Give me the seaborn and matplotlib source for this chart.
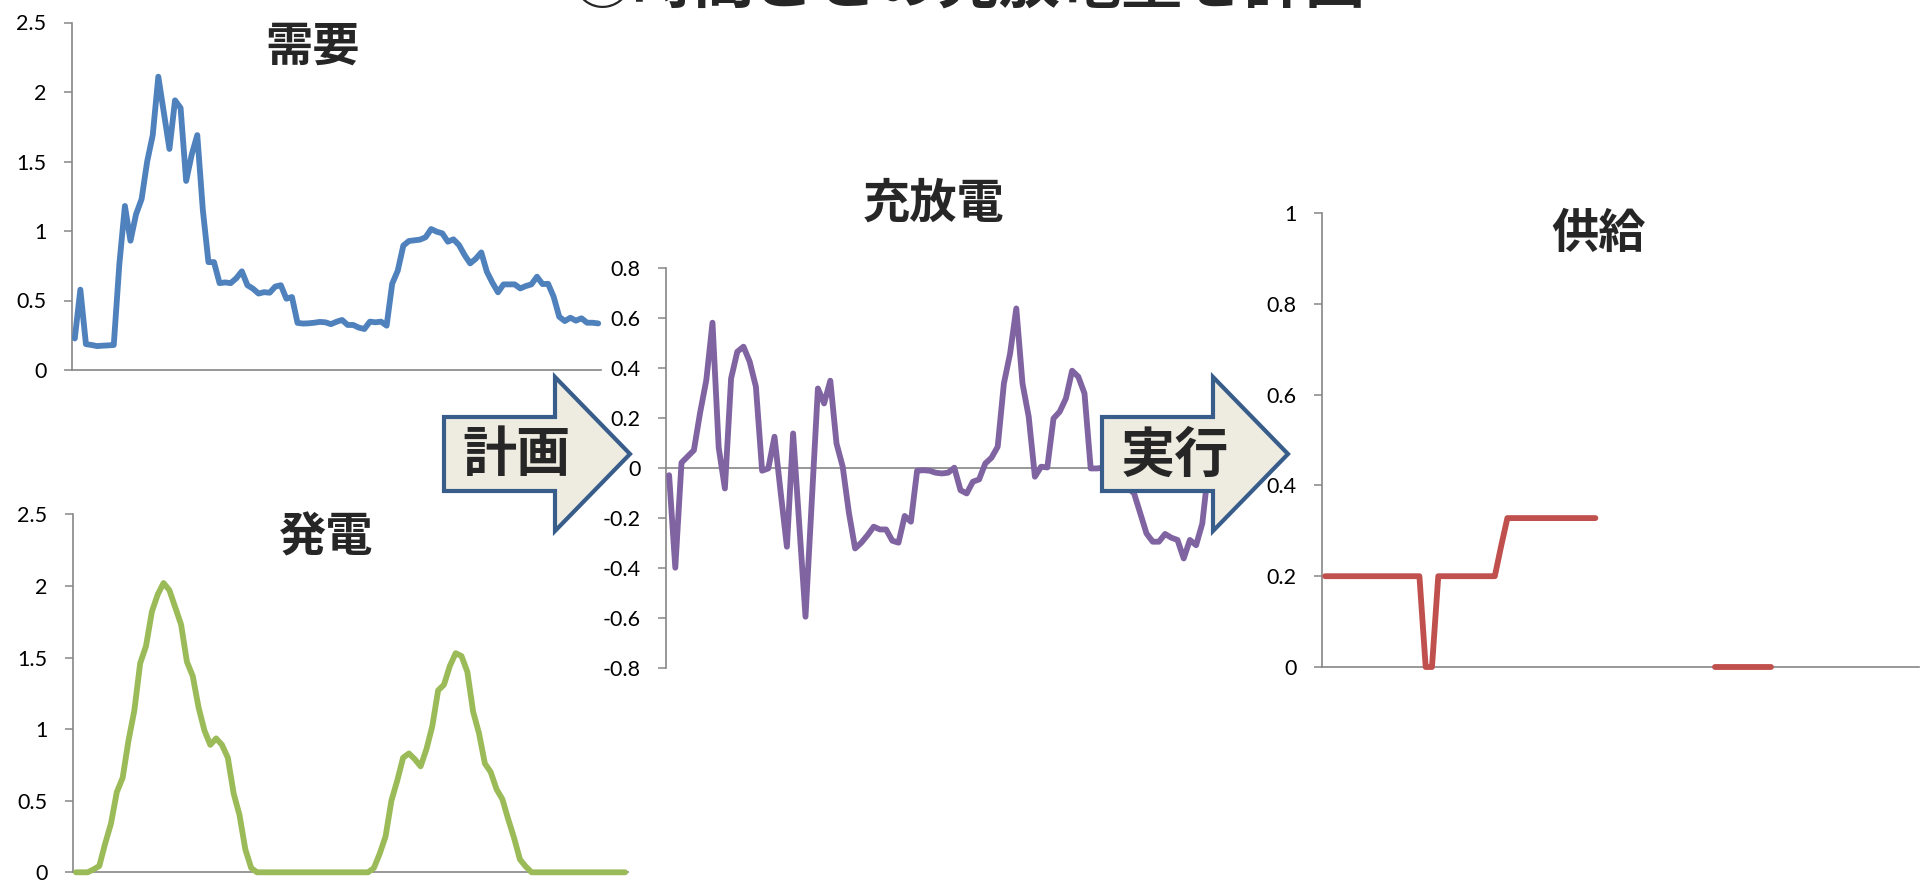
import numpy as np
import pandas as pd
import seaborn as sns
import matplotlib.pyplot as plt
from matplotlib.patches import Polygon

W, H = 1920, 883

# --- data (one value per time step) ---
demand = [0.227, 0.578, 0.186, 0.18, 0.172, 0.175, 0.177, 0.18, 0.76, 1.18,
          0.93, 1.12, 1.23, 1.50, 1.69, 2.11, 1.85, 1.59, 1.94, 1.885,
          1.36, 1.55, 1.69, 1.15, 0.776, 0.776, 0.625, 0.63, 0.625, 0.66,
          0.71, 0.61, 0.585, 0.55, 0.56, 0.556, 0.60, 0.61, 0.513, 0.525,
          0.339, 0.334, 0.336, 0.34, 0.346, 0.343, 0.33, 0.347, 0.36, 0.324,
          0.324, 0.305, 0.295, 0.348, 0.343, 0.348, 0.319, 0.62, 0.715, 0.895,
          0.928, 0.933, 0.938, 0.955, 1.014, 0.995, 0.983, 0.923, 0.94, 0.899,
          0.827, 0.767, 0.80, 0.846, 0.707, 0.628, 0.559, 0.616, 0.616, 0.616,
          0.587, 0.604, 0.616, 0.671, 0.618, 0.62, 0.527, 0.383, 0.352, 0.376,
          0.355, 0.372, 0.34, 0.34, 0.335]

generation = [0, 0, 0, 0.02, 0.044, 0.20, 0.34, 0.56, 0.66, 0.92,
              1.13, 1.46, 1.58, 1.82, 1.94, 2.02, 1.97, 1.85, 1.73, 1.47,
              1.37, 1.15, 0.99, 0.89, 0.935, 0.89, 0.80, 0.55, 0.40, 0.16,
              0.03, 0, 0, 0, 0, 0, 0, 0, 0, 0,
              0, 0, 0, 0, 0, 0, 0, 0, 0, 0,
              0, 0.03, 0.13, 0.25, 0.50, 0.64, 0.80, 0.83, 0.79, 0.74,
              0.86, 1.02, 1.27, 1.31, 1.44, 1.53, 1.51, 1.40, 1.12, 0.97,
              0.76, 0.70, 0.58, 0.51, 0.37, 0.24, 0.09, 0.04, 0, 0,
              0, 0, 0, 0, 0, 0, 0, 0, 0, 0,
              0, 0, 0, 0, 0]

charge = [-0.03, -0.40, 0.02, 0.045, 0.07, 0.22, 0.35, 0.58, 0.08, -0.083,
          0.357, 0.464, 0.484, 0.424, 0.324, -0.012, -0.003, 0.124, -0.10, -0.316,
          0.137, -0.23, -0.596, -0.14, 0.317, 0.257, 0.348, 0.097, 0.004, -0.18,
          -0.323, -0.30, -0.27, -0.236, -0.247, -0.247, -0.292, -0.30, -0.193, -0.216,
          -0.012, -0.01, -0.012, -0.02, -0.023, -0.02, 0.0, -0.09, -0.103, -0.056,
          -0.047, 0.017, 0.04, 0.084, 0.337, 0.457, 0.637, 0.337, 0.204, -0.036,
          0.004, 0.001, 0.197, 0.224, 0.277, 0.388, 0.364, 0.297, -0.003, -0.003,
          0.0, 0.0, -0.02, -0.05, -0.08, -0.103, -0.183, -0.263, -0.296, -0.296,
          -0.265, -0.28, -0.289, -0.363, -0.289, -0.31, -0.223, 0.0, 0.0, 0.0,
          0.0, 0.0, 0.0, 0.0, 0.0]

nan = np.nan
supply = ([0.2] * 16 + [0, 0] + [0.2] * 10 + [0.266] + [0.328] * 15
          + [nan] * 18 + [0] * 10 + [nan] * 23)

demand_ticks = [0, 0.5, 1, 1.5, 2, 2.5]
charge_ticks = [-0.8, -0.6, -0.4, -0.2, 0, 0.2, 0.4, 0.6, 0.8]
supply_ticks = [0, 0.2, 0.4, 0.6, 0.8, 1]

titles = ['需要', '発電', '充放電', '供給']
main_title = '②時間ごとの充放電量を計画'
arrow_labels = ['計画', '実行']

AXIS_GRAY = '#868686'
JP = 'Noto Sans CJK JP'

sns.set_style('white')
plt.rcParams['font.family'] = ['Lato', JP, 'DejaVu Sans']
plt.rcParams['axes.unicode_minus'] = False

fig = plt.figure(figsize=(W / 100, H / 100), dpi=100)


def box(x0, x1, top, bottom):
    return [x0 / W, 1 - bottom / H, (x1 - x0) / W, (bottom - top) / H]


def fxy(x, y):
    return (x / W, 1 - y / H)


def make_axes(rect, ticks, zero_spine=False):
    ax = fig.add_axes(rect)
    ax.set_facecolor('none')
    ax.set_xlim(-0.5, len(demand) - 0.5)
    ax.set_ylim(ticks[0], ticks[-1])
    ax.set_yticks(ticks)
    ax.set_yticklabels([f'{t:g}' for t in ticks])
    ax.set_xticks([])
    for side in ['top', 'right']:
        ax.spines[side].set_visible(False)
    for side in ['left', 'bottom']:
        ax.spines[side].set_color(AXIS_GRAY)
        ax.spines[side].set_linewidth(1.2)
    if zero_spine:
        ax.spines['bottom'].set_position(('data', 0))
    ax.tick_params(axis='y', left=True, direction='out', length=6, width=1.1,
                   color=AXIS_GRAY, pad=12.5, labelsize=15.5, labelcolor='black')
    return ax


def draw_line(ax, values, color):
    df = pd.DataFrame({'t': np.arange(len(values)), 'v': values})
    df['seg'] = df['v'].isna().cumsum()   # break the line where data is missing
    df = df.dropna()
    sns.lineplot(data=df, x='t', y='v', units='seg', estimator=None, ax=ax,
                 color=color, linewidth=4.2, solid_joinstyle='round',
                 solid_capstyle='round', clip_on=False, zorder=3)
    ax.set_xlabel('')
    ax.set_ylabel('')


ax_d = make_axes(box(72, 601, 22.5, 370), demand_ticks)
draw_line(ax_d, demand, '#4F81BD')

ax_g = make_axes(box(73, 628, 514.3, 872.3), demand_ticks)
draw_line(ax_g, generation, '#9BBB59')

ax_c = make_axes(box(666, 1255, 267.7, 667.7), charge_ticks, zero_spine=True)
draw_line(ax_c, charge, '#8064A2')

ax_s = make_axes(box(1322, 1919, 213, 667), supply_ticks)
draw_line(ax_s, supply, '#C0504D')

# chart titles
title_pos = [(313, 47), (326, 537), (934, 204), (1599, 234)]
for t, (x, y) in zip(titles, title_pos):
    fig.text(*fxy(x, y), t, family=JP, fontsize=34, fontweight='bold',
             ha='center', va='center')

# slide heading, cut off at the top edge as in the source
fig.text(*fxy(969, 17), main_title, family=JP, fontsize=44, fontweight='bold',
         ha='center', va='bottom')

# block arrows
for left, label in zip([444, 1102], arrow_labels):
    pts = [(left, 417), (left + 111, 417), (left + 111, 377), (left + 186, 454),
           (left + 111, 531), (left + 111, 491), (left, 491)]
    poly = Polygon([fxy(x, y) for x, y in pts], closed=True,
                   transform=fig.transFigure, facecolor='#EEECE1',
                   edgecolor='#385D8A', linewidth=3, joinstyle='miter', zorder=10)
    fig.add_artist(poly)
    fig.text(*fxy(left + 73, 456), label, family=JP, fontsize=39,
             fontweight='bold', ha='center', va='center', zorder=11)

fig.savefig('out.png', dpi=100)
